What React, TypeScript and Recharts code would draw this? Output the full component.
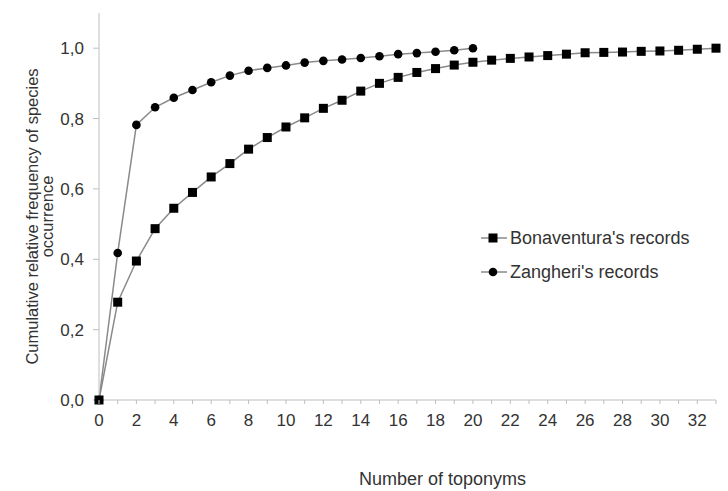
import { Label, Legend, Line, LineChart, XAxis, YAxis } from "recharts";

const toponyms = [0, 1, 2, 3, 4, 5, 6, 7, 8, 9, 10, 11, 12, 13, 14, 15, 16, 17, 18, 19, 20, 21, 22, 23, 24, 25, 26, 27, 28, 29, 30, 31, 32, 33];
const bonaventura = [
  0, 0.278, 0.395, 0.487, 0.545, 0.59, 0.634, 0.672, 0.713, 0.746, 0.776, 0.802, 0.829, 0.852, 0.878, 0.9, 0.917,
  0.931, 0.942, 0.952, 0.96, 0.966, 0.971, 0.975, 0.979, 0.983, 0.987, 0.988, 0.989, 0.991, 0.992, 0.994, 0.997, 1.0,
];
const zangheri = [
  0, 0.418, 0.782, 0.832, 0.859, 0.881, 0.903, 0.922, 0.936, 0.944, 0.951, 0.959, 0.964, 0.968, 0.972, 0.977, 0.983,
  0.986, 0.99, 0.994, 1.0,
];
const xLabelTicks = [0, 2, 4, 6, 8, 10, 12, 14, 16, 18, 20, 22, 24, 26, 28, 30, 32];
const yTicks = [0, 0.2, 0.4, 0.6, 0.8, 1.0];

const data = toponyms.map((t, i) => ({
  t,
  bonaventura: bonaventura[i],
  zangheri: i < zangheri.length ? zangheri[i] : undefined,
}));

const FONT = "'Liberation Sans', Arial, sans-serif";
const TEXT = "#333";
const AXIS = "#bfbfbf";
const LINE = "#8a8a8a";

const fmt = (v: number) => v.toFixed(1).replace(".", ",");

function SquareDot(props: any) {
  const { cx, cy } = props;
  if (cx == null || cy == null) return null;
  return <rect x={cx - 4.5} y={cy - 4.5} width={9} height={9} fill="#000" />;
}

function CircleDot(props: any) {
  const { cx, cy } = props;
  if (cx == null || cy == null) return null;
  return <circle cx={cx} cy={cy} r={4.3} fill="#000" />;
}

function XTick(props: any) {
  const { x, y, payload } = props;
  const show = xLabelTicks.includes(payload.value);
  return (
    <g>
      <line x1={x} x2={x} y1={y - 8} y2={y - 4} stroke={AXIS} />
      {show && (
        <text x={x} y={y + 18} textAnchor="middle" fontSize={17} fill={TEXT} fontFamily={FONT}>
          {payload.value}
        </text>
      )}
    </g>
  );
}

function YLabel(props: any) {
  const vb = props.viewBox || { x: 0, y: 13, width: 100, height: 387 };
  const cy = vb.y + vb.height / 2 + 10;
  return (
    <g transform={`translate(0, ${cy}) rotate(-90)`} fontFamily={FONT} fontSize={16.5} fill={TEXT}>
      <text x={0} y={38} textAnchor="middle">
        Cumulative relative frequency of species
      </text>
      <text x={0} y={53} textAnchor="middle">
        occurrence
      </text>
    </g>
  );
}

function LegendContent() {
  const items = [
    { name: "Bonaventura's records", shape: "square" },
    { name: "Zangheri's records", shape: "circle" },
  ];
  return (
    <div style={{ fontFamily: FONT, fontSize: 18, color: TEXT, lineHeight: 1 }}>
      {items.map((it) => (
        <div key={it.name} style={{ display: "flex", alignItems: "center", height: 34 }}>
          <svg width={28} height={12} style={{ marginRight: 2 }}>
            <line x1={1} x2={27} y1={6} y2={6} stroke={LINE} strokeWidth={1.5} />
            {it.shape === "square" ? (
              <rect x={8.5} y={1.5} width={9} height={9} fill="#000" />
            ) : (
              <circle cx={13} cy={6} r={4.3} fill="#000" />
            )}
          </svg>
          <span>{it.name}</span>
        </div>
      ))}
    </div>
  );
}

export default function App() {
  return (
    <div style={{ width: 728, height: 491, background: "#fff", position: "relative" }}>
      <style>{`body{margin:0}`}</style>
      <LineChart width={728} height={491} data={data} margin={{ top: 13, right: 12, left: 0, bottom: 0 }}>
        <XAxis
          dataKey="t"
          type="number"
          domain={[0, 33]}
          ticks={toponyms}
          interval={0}
          stroke={AXIS}
          tickLine={false}
          tick={<XTick />}
          height={91}
        >
          <Label
            value="Number of toponyms"
            position="insideBottom"
            offset={6}
            dx={35}
            style={{ fontFamily: FONT, fontSize: 18, fill: TEXT }}
          />
        </XAxis>
        <YAxis
          type="number"
          domain={[0, 1.1]}
          ticks={yTicks}
          tickFormatter={fmt}
          stroke={AXIS}
          tickSize={6}
          tickMargin={9}
          width={99}
          tick={{ fontSize: 17, fill: TEXT, fontFamily: FONT }}
        >
          <Label content={<YLabel />} />
        </YAxis>
        <Legend
          layout="horizontal"
          verticalAlign="middle"
          align="center"
          content={<LegendContent />}
          wrapperStyle={{ position: "absolute", left: 480, top: 221, width: 248 }}
        />
        <Line
          type="linear"
          dataKey="bonaventura"
          stroke={LINE}
          strokeWidth={1.5}
          dot={<SquareDot />}
          activeDot={false}
          isAnimationActive={false}
        />
        <Line
          type="linear"
          dataKey="zangheri"
          stroke={LINE}
          strokeWidth={1.5}
          dot={<CircleDot />}
          activeDot={false}
          connectNulls={false}
          isAnimationActive={false}
        />
      </LineChart>
    </div>
  );
}
